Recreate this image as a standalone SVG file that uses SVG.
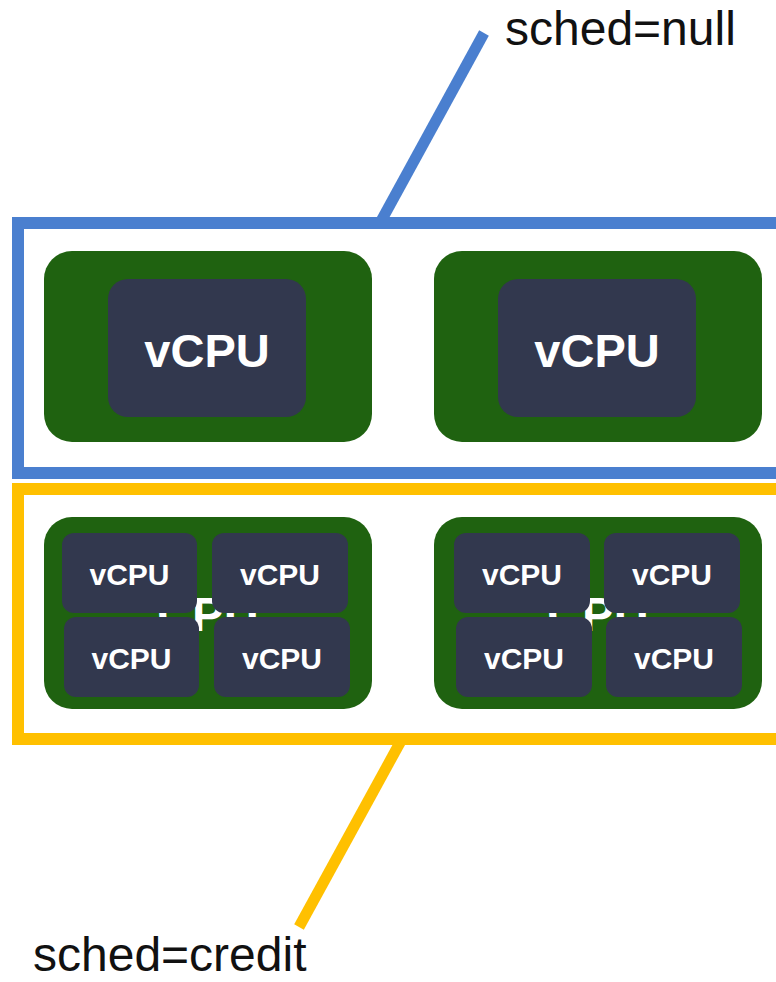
<svg xmlns="http://www.w3.org/2000/svg" width="776" height="982" viewBox="0 0 776 982">
<style>
.pcpu{fill:#1f6210}
.vcpu{fill:#32384e}
.big{font-family:"Liberation Sans",Arial,sans-serif;font-weight:bold;font-size:47px;fill:#fff;text-anchor:middle}
.small{font-family:"Liberation Sans",Arial,sans-serif;font-weight:bold;font-size:30px;fill:#fff;text-anchor:middle}
.hid{font-family:"Liberation Sans",Arial,sans-serif;font-weight:bold;font-size:48px;fill:#fff;text-anchor:middle}
.lbl{font-family:"Liberation Sans",Arial,sans-serif;font-size:48px;fill:#111}
</style>
<rect width="776" height="982" fill="#fff"/>
<g id="connectors">
<line x1="484" y1="33" x2="380" y2="223" stroke="#4a7fcf" stroke-width="11"/>
<line x1="402" y1="739" x2="299" y2="927" stroke="#ffc000" stroke-width="11"/>
</g>
<g id="null-pool">
<rect x="18" y="223" width="800" height="250" fill="none" stroke="#4a7fcf" stroke-width="12"/>
</g>
<g id="credit-pool">
<rect x="18" y="489" width="800" height="250" fill="none" stroke="#ffc000" stroke-width="12"/>
</g>
<g id="pcpu1">
<rect class="pcpu" x="44" y="251" width="328" height="191" rx="28"/>
<rect class="vcpu" x="108" y="279" width="198" height="138" rx="20"/>
<text class="big" x="207" y="367">vCPU</text>
</g>
<g id="pcpu2">
<rect class="pcpu" x="434" y="251" width="328" height="191" rx="28"/>
<rect class="vcpu" x="498" y="279" width="198" height="138" rx="20"/>
<text class="big" x="597" y="367">vCPU</text>
</g>
<g id="pcpu3">
<rect class="pcpu" x="44" y="517" width="328" height="192" rx="28"/>
<text class="hid" x="208" y="631">CPU</text>
<rect class="vcpu" x="62" y="533" width="135" height="80" rx="12"/>
<rect class="vcpu" x="212" y="533" width="136" height="80" rx="12"/>
<rect class="vcpu" x="64" y="617" width="135" height="80" rx="12"/>
<rect class="vcpu" x="214" y="617" width="136" height="80" rx="12"/>
<text class="small" x="129.5" y="585">vCPU</text>
<text class="small" x="280" y="585">vCPU</text>
<text class="small" x="131.5" y="669">vCPU</text>
<text class="small" x="282" y="669">vCPU</text>
</g>
<g id="pcpu4">
<rect class="pcpu" x="434" y="517" width="328" height="192" rx="28"/>
<text class="hid" x="598" y="631">CPU</text>
<rect class="vcpu" x="454" y="533" width="136" height="80" rx="12"/>
<rect class="vcpu" x="604" y="533" width="136" height="80" rx="12"/>
<rect class="vcpu" x="456" y="617" width="136" height="80" rx="12"/>
<rect class="vcpu" x="606" y="617" width="136" height="80" rx="12"/>
<text class="small" x="522" y="585">vCPU</text>
<text class="small" x="672" y="585">vCPU</text>
<text class="small" x="524" y="669">vCPU</text>
<text class="small" x="674" y="669">vCPU</text>
</g>
<g id="label-null">
<text class="lbl" x="505" y="45">sched=null</text>
</g>
<g id="label-credit">
<text class="lbl" x="33" y="971">sched=credit</text>
</g>
</svg>
